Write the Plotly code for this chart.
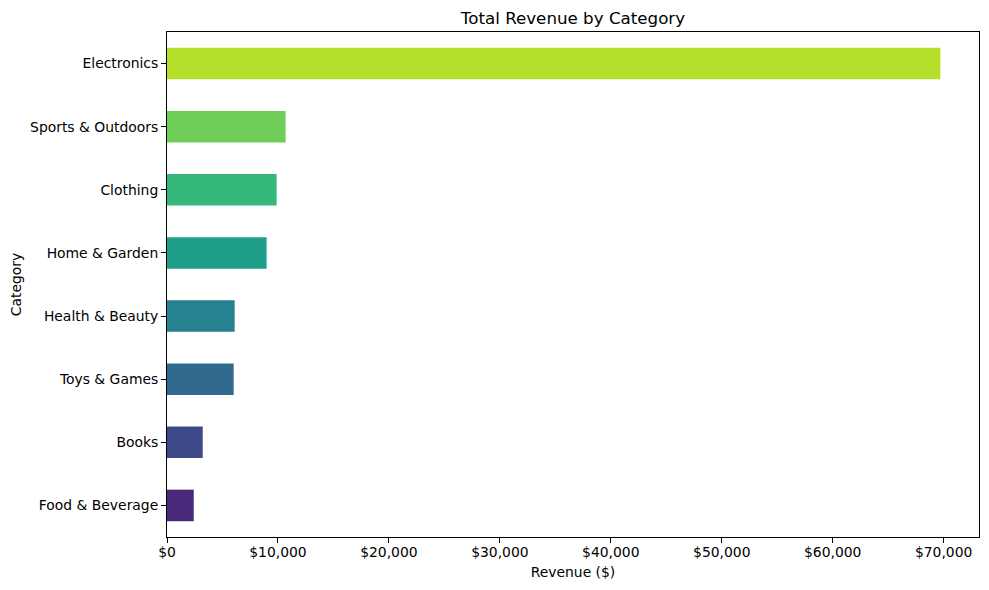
import plotly.graph_objects as go

categories = ["Food & Beverage", "Books", "Toys & Games", "Health & Beauty",
              "Home & Garden", "Clothing", "Sports & Outdoors", "Electronics"]
revenue = [2410, 3220, 6010, 6100, 8980, 9880, 10690, 69700]
colors = ["#482878", "#3e4a89", "#31688e", "#26828e",
          "#1f9e89", "#35b779", "#6ece58", "#b5de2b"]
x_ticks = [0, 10000, 20000, 30000, 40000, 50000, 60000, 70000]
x_tick_labels = ["$0", "$10,000", "$20,000", "$30,000", "$40,000", "$50,000", "$60,000", "$70,000"]

fig = go.Figure(go.Bar(
    x=revenue, y=categories, orientation="h",
    marker=dict(color=colors, line=dict(width=0)),
    width=0.5,
))

font = "DejaVu Sans, sans-serif"
# page body has an 8px default margin, so the figure is offset by 8px
fig.update_layout(
    width=981, height=582,
    margin=dict(l=159, r=10, t=24, b=53),
    paper_bgcolor="white", plot_bgcolor="white",
    font=dict(family=font, size=13.9, color="black"),
    showlegend=False,
    title=dict(text="Total Revenue by Category", x=0.5, xanchor="center",
               xref="paper", y=1 - 10 / 582, yanchor="middle",
               font=dict(size=16.7, family=font, color="black")),
    xaxis=dict(
        range=[0, max(revenue) * 1.05], tickvals=x_ticks, ticktext=x_tick_labels,
        showgrid=False, zeroline=False, showline=True, mirror=True, automargin=False,
        linecolor="black", linewidth=1, ticks="outside", ticklen=5, tickcolor="black",
        ticklabelstandoff=-3,
        title=dict(text="Revenue ($)", font=dict(size=13.9, family=font), standoff=8),
        tickfont=dict(size=13.9, family=font),
    ),
    yaxis=dict(
        range=[-0.5, 7.5], showgrid=False, zeroline=False, showline=True, mirror=True,
        automargin=False,
        linecolor="black", linewidth=1, ticks="outside", ticklen=5, tickcolor="black",
        title=dict(text="Category", font=dict(size=13.9, family=font), standoff=10),
        tickfont=dict(size=13.9, family=font),
    ),
)

fig.write_html("out.html")
